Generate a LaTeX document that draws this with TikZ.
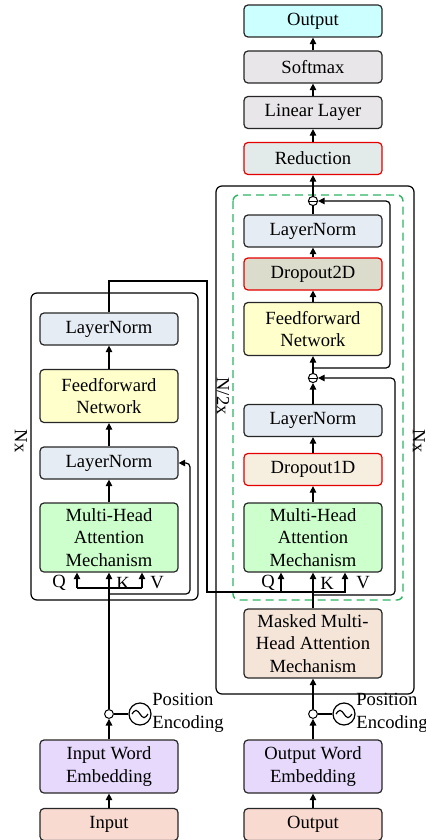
\documentclass[tikz,border=0pt]{standalone}
\usepackage{fontspec}
\setmainfont{Liberation Serif}
\usetikzlibrary{arrows.meta}

\definecolor{outcol}{HTML}{CCFFFF}
\definecolor{smcol}{HTML}{E8E6E8}
\definecolor{redcol}{HTML}{E3EAEA}
\definecolor{lncol}{HTML}{E6ECF3}
\definecolor{dropbcol}{HTML}{DCDCCC}
\definecolor{dropacol}{HTML}{F6EEDF}
\definecolor{ffcol}{HTML}{FFFFCC}
\definecolor{mhacol}{HTML}{CCFFCC}
\definecolor{maskcol}{HTML}{F5E4D8}
\definecolor{embcol}{HTML}{E6D9FC}
\definecolor{inpcol}{HTML}{F8DAD1}
\definecolor{dashcol}{HTML}{2DB665}

\begin{document}
\begin{tikzpicture}[x=0.5pt,y=-0.5pt,
  blk/.style={draw=black!85,rounded corners=2pt,line width=0.6pt,minimum width=69pt,minimum height=16pt,align=center,inner sep=0pt,font=\fontsize{9.3pt}{11.2pt}\selectfont},
  blkii/.style={blk,minimum height=26.5pt},
  blkiii/.style={blk,minimum height=34.5pt},
  redbox/.style={draw=red!90!black},
  lbl/.style={inner sep=0pt,font=\fontsize{9.3pt}{11.2pt}\selectfont},
  ln/.style={line width=0.6pt},
  arr/.style={ln,-{Triangle[length=3.3pt,width=3.3pt]}},
  sumc/.style={circle,draw,fill=white,line width=0.5pt,inner sep=0pt,minimum size=4.6pt},
  joinc/.style={circle,draw,fill=white,line width=0.5pt,inner sep=0pt,minimum size=4.4pt},
  pec/.style={circle,draw,line width=0.6pt,inner sep=0pt,minimum size=11pt}]
\useasboundingbox (0,0) rectangle (426,840);

% frames
\draw[ln,rounded corners=3pt] (31,293) rectangle (198,600);
\draw[ln,rounded corners=3pt] (216,186) rectangle (414,694);
\draw[dashcol,line width=0.7pt,dash pattern=on 4pt off 2.5pt,rounded corners=3pt] (233,195) rectangle (403,600);

% decoder side
\node[blk,fill=outcol] (dout) at (313,21) {Output};
\node[blk,fill=smcol] (soft) at (313,67) {Softmax};
\node[blk,fill=smcol] (lin) at (313,112.5) {Linear Layer};
\node[blk,redbox,fill=redcol] (red) at (313,158.5) {Reduction};
\node[sumc] (dsumb) at (313,201) {};
\node[blk,fill=lncol] (dlnb) at (313,231) {LayerNorm};
\node[blk,redbox,fill=dropbcol] (dropb) at (313,274) {Dropout2D};
\node[blkii,fill=ffcol] (dff) at (313,329) {Feedforward\\Network};
\node[sumc] (dsuma) at (313,378) {};
\node[blk,fill=lncol] (dlna) at (313,420.5) {LayerNorm};
\node[blk,redbox,fill=dropacol] (dropa) at (313,469.5) {Dropout1D};
\node[blkiii,fill=mhacol] (dmha) at (313,537.5) {Multi-Head\\Attention\\Mechanism};
\node[blkiii,fill=maskcol] (mmha) at (313,643.5) {Masked Multi-\\Head Attention\\Mechanism};
\node[joinc] (djoin) at (313,714) {};
\node[pec] (dpe) at (344,714) {};
\node[blkii,fill=embcol] (demb) at (313,766.5) {Output Word\\Embedding};
\node[blk,fill=inpcol] (dinp) at (313,824.5) {Output};

% encoder side
\node[blk,fill=lncol] (elnb) at (109,329) {LayerNorm};
\node[blkii,fill=ffcol] (eff) at (109,396) {Feedforward\\Network};
\node[blk,fill=lncol] (elna) at (109,463) {LayerNorm};
\node[blkiii,fill=mhacol] (emha) at (109,537.5) {Multi-Head\\Attention\\Mechanism};
\node[joinc] (ejoin) at (109,714) {};
\node[pec] (epe) at (140,714) {};
\node[blkii,fill=embcol] (eemb) at (109,766.5) {Input Word\\Embedding};
\node[blk,fill=inpcol] (einp) at (109,824.5) {Input};

% labels
\node[lbl] (eql) at (59,583) {Q};
\node[lbl] (ekl) at (123,583) {K};
\node[lbl] (evl) at (157,583) {V};
\node[lbl] (dql) at (268,583) {Q};
\node[lbl] (dkl) at (327,583) {K};
\node[lbl] (dvl) at (363,583) {V};
\node[lbl,rotate=-90] (enx) at (21,441) {Nx};
\node[lbl,rotate=-90] (dnx) at (419,441) {Nx};
\node[lbl,rotate=-90] (dnh) at (223,396) {N/2x};
\node[lbl,anchor=west,align=left] (epos) at (152,713) {Position\\Encoding};
\node[lbl,anchor=west,align=left] (dpos) at (356,713) {Position\\Encoding};

% sine marks
\draw[ln] ([xshift=-4pt]epe.center) sin ++(2pt,1.8pt) cos ++(2pt,-1.8pt) sin ++(2pt,-1.8pt) cos ++(2pt,1.8pt);
\draw[ln] ([xshift=-4pt]dpe.center) sin ++(2pt,1.8pt) cos ++(2pt,-1.8pt) sin ++(2pt,-1.8pt) cos ++(2pt,1.8pt);
\draw[line width=0.5pt] (dsuma.west) -- (dsuma.east);
\draw[line width=0.5pt] (dsumb.west) -- (dsumb.east);

% encoder connectors
\coordinate (eq) at (77,588);
\coordinate (ev) at (142,588);
\coordinate (eres) at (190,594);
\draw[arr] (einp) -- (eemb);
\draw[arr] (eemb) -- (ejoin);
\draw[ln] (ejoin) -- (epe);
\draw[arr] (ejoin) -- (emha);
\draw[ln] (eq) -- (ev);
\draw[arr] (eq) -- (eq |- emha.south);
\draw[arr] (ev) -- (ev |- emha.south);
\draw[arr,rounded corners=2pt] (ejoin |- eres) -- (eres) -- (eres |- elna.east) -- (elna.east);
\draw[arr] (emha) -- (elna);
\draw[arr] (elna) -- (eff);
\draw[arr] (eff) -- (elnb);

% encoder to decoder
\coordinate (etop) at (207,281);
\coordinate (ebot) at (207,592);
\coordinate (dq) at (281,592);
\coordinate (dv) at (345,592);
\draw[arr] (elnb.north) -- (elnb.north |- etop) -- (etop) -- (ebot) -- (dv) -- (dv |- dmha.south);
\draw[arr] (dq) -- (dq |- dmha.south);

% decoder connectors
\coordinate (dra) at (395,595);
\coordinate (drb) at (390,368);
\draw[arr] (dinp) -- (demb);
\draw[arr] (demb) -- (djoin);
\draw[ln] (djoin) -- (dpe);
\draw[arr] (djoin) -- (mmha);
\draw[arr] (mmha) -- (dmha);
\draw[arr,rounded corners=2pt] (dmha.south |- dra) -- (dra) -- (dra |- dsuma) -- (dsuma);
\draw[arr] (dmha) -- (dropa);
\draw[arr] (dropa) -- (dlna);
\draw[arr] (dlna) -- (dsuma);
\draw[arr] (dsuma) -- (dff);
\draw[arr,rounded corners=2pt] (dff.south |- drb) -- (drb) -- (drb |- dsumb) -- (dsumb);
\draw[arr] (dff) -- (dropb);
\draw[arr] (dropb) -- (dlnb);
\draw[ln] (dlnb) -- (dsumb);
\draw[arr] (dsumb) -- (red);
\draw[arr] (red) -- (lin);
\draw[arr] (lin) -- (soft);
\draw[arr] (soft) -- (dout);

\end{tikzpicture}
\end{document}
